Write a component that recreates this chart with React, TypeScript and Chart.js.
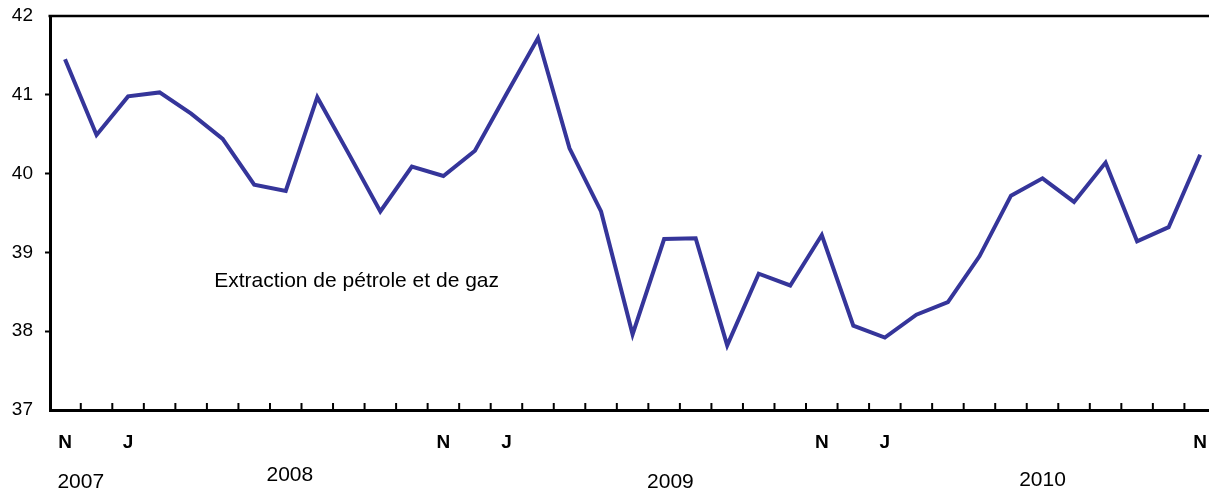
import React, { useEffect, useRef } from "react";
import { Chart, registerables } from "chart.js";

Chart.register(...registerables);

// Monthly series, Nov 2007 .. Nov 2010
const MONTH_LETTERS = [
  "N", "", "J", "", "", "", "", "", "", "", "", "",
  "N", "", "J", "", "", "", "", "", "", "", "", "",
  "N", "", "J", "", "", "", "", "", "", "", "", "",
  "N",
];
const VALUES = [
  41.45, 40.49, 40.98, 41.03, 40.76, 40.44, 39.86, 39.78, 40.97, 40.25, 39.52, 40.09,
  39.97, 40.29, 41.01, 41.72, 40.32, 39.52, 37.96, 39.17, 39.18, 37.82, 38.73, 38.58,
  39.22, 38.07, 37.92, 38.21, 38.37, 38.95, 39.72, 39.94, 39.64, 40.14, 39.14, 39.32,
  40.24,
];
const Y_TICKS = [37, 38, 39, 40, 41, 42];
const YEAR_LABELS = ["2007", "2008", "2009", "2010"];
const SERIES_LABEL = "Extraction de pétrole et de gaz";

// layout (kept separate from data)
const YEAR_POS_X = [0.5, 7.13, 19.2, 31.0];
const YEAR_POS_Y = [482, 475, 482, 480];
const ANNOT_X = 4.73;
const ANNOT_Y = 38.64;

const FONT = "'Liberation Sans', Arial, Helvetica, sans-serif";
const LINE_COLOR = "#35359a";

const decorPlugin = {
  id: "decor",
  afterDraw(chart: any) {
    const ctx = chart.ctx;
    const area = chart.chartArea;
    const xs = chart.scales.x;
    const ys = chart.scales.y;
    ctx.save();
    // top border
    ctx.strokeStyle = "#000";
    ctx.lineWidth = 2.5;
    ctx.beginPath();
    ctx.moveTo(area.left - 1.5, area.top);
    ctx.lineTo(chart.width, area.top);
    ctx.stroke();
    // x tick marks between months, pointing up inside
    ctx.lineWidth = 2;
    for (let i = -1; i < VALUES.length; i++) {
      const px = xs.getPixelForValue(i + 0.5);
      if (px <= area.left + 2 || px >= area.right) continue;
      ctx.beginPath();
      ctx.moveTo(px, area.bottom);
      ctx.lineTo(px, area.bottom - 7);
      ctx.stroke();
    }
    // year labels
    ctx.fillStyle = "#000";
    ctx.font = `21px ${FONT}`;
    ctx.textAlign = "center";
    ctx.textBaseline = "middle";
    YEAR_LABELS.forEach((t, k) => {
      ctx.fillText(t, xs.getPixelForValue(YEAR_POS_X[k]), YEAR_POS_Y[k]);
    });
    // series annotation
    ctx.font = `21px ${FONT}`;
    ctx.textAlign = "left";
    ctx.fillText(SERIES_LABEL, xs.getPixelForValue(ANNOT_X), ys.getPixelForValue(ANNOT_Y));
    ctx.restore();
  },
};

export default function App() {
  const ref = useRef<HTMLCanvasElement | null>(null);
  useEffect(() => {
    if (!ref.current) return;
    const chart = new Chart(ref.current, {
      type: "line",
      data: {
        datasets: [
          {
            label: SERIES_LABEL,
            data: VALUES.map((v, i) => ({ x: i, y: v })),
            borderColor: LINE_COLOR,
            borderWidth: 4,
            pointRadius: 0,
            tension: 0,
            borderJoinStyle: "miter",
            fill: false,
          },
        ],
      },
      options: {
        responsive: false,
        animation: false,
        devicePixelRatio: 1,
        layout: { padding: { top: 16, right: 0, left: 0, bottom: 0 } },
        plugins: { legend: { display: false }, tooltip: { enabled: false } },
        scales: {
          x: {
            type: "linear",
            min: -0.476,
            max: 36.28,
            afterBuildTicks: (scale: any) => {
              scale.ticks = MONTH_LETTERS.map((_, i) => ({ value: i }));
            },
            afterFit: (scale: any) => {
              scale.height = 83;
            },
            grid: {
              display: true,
              drawOnChartArea: false,
              drawTicks: true,
              tickLength: 21,
              tickColor: "rgba(0,0,0,0)",
              color: "rgba(0,0,0,0)",
            },
            border: { display: true, color: "#000", width: 3 },
            ticks: {
              autoSkip: false,
              maxRotation: 0,
              padding: 0,
              color: "#000",
              font: { family: FONT, size: 19, weight: "bold" },
              callback: (v: any) => MONTH_LETTERS[Math.round(Number(v))] ?? "",
            },
          },
          y: {
            min: 37,
            max: 42,
            afterBuildTicks: (scale: any) => {
              scale.ticks = Y_TICKS.map((v) => ({ value: v }));
            },
            afterFit: (scale: any) => {
              scale.width = 50;
            },
            grid: {
              drawOnChartArea: false,
              drawTicks: true,
              tickLength: 5,
              tickWidth: 2,
              tickColor: (c: any) =>
                c.tick && (c.tick.value === 37 || c.tick.value === 42) ? "rgba(0,0,0,0)" : "#000",
            },
            border: { display: true, color: "#000", width: 3 },
            ticks: {
              padding: 12,
              color: "#000",
              font: { family: FONT, size: 19, lineHeight: 0.3 },
            },
          },
        },
      },
      plugins: [decorPlugin],
    } as any);
    return () => chart.destroy();
  }, []);
  return (
    <div style={{ position: "absolute", left: 0, top: 0, width: 1209, height: 493, background: "#fff" }}>
      <canvas ref={ref} width={1209} height={493} style={{ display: "block" }} />
    </div>
  );
}
